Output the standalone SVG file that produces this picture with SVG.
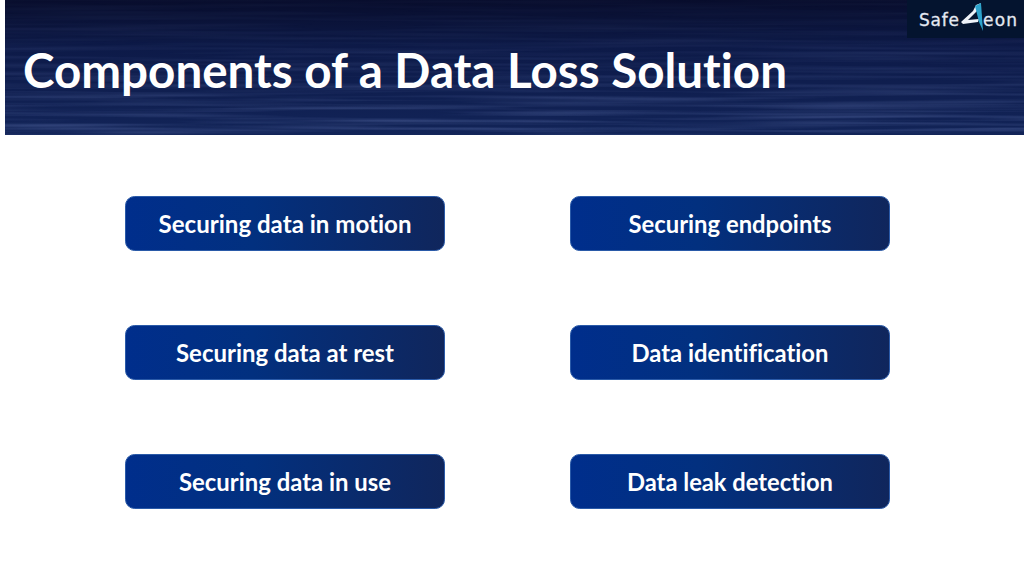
<svg xmlns="http://www.w3.org/2000/svg" width="1024" height="576" viewBox="0 0 1024 576">
<style>
.box{fill:url(#bx);stroke:#2a5aa8;stroke-width:1}
.lb{font-family:Lato,"Open Sans","Liberation Sans",sans-serif;font-weight:700;font-size:24px;fill:#fff;text-anchor:middle;font-variant-ligatures:none}
.tt{font-family:Lato,"Open Sans","Liberation Sans",sans-serif;font-weight:700;font-size:47px;fill:#fff;font-variant-ligatures:none}
.lg{font-family:"DejaVu Sans",sans-serif;font-weight:400;font-size:17px;fill:#e4e9f2;stroke:#e4e9f2;stroke-width:0.300}
</style>
<defs>
<linearGradient id="bx" x1="0" x2="1" y1="0" y2="0"><stop offset="0" stop-color="#002e8c"/><stop offset="0.4" stop-color="#02307f"/><stop offset="1" stop-color="#10265c"/></linearGradient>
<linearGradient id="hd" x1="0" x2="0" y1="0" y2="1"><stop offset="0" stop-color="#080d2c"/><stop offset="0.35" stop-color="#0d1a48"/><stop offset="1" stop-color="#122458"/></linearGradient>
<linearGradient id="fade" x1="0" x2="0" y1="0" y2="1"><stop offset="0" stop-color="#fff" stop-opacity="0.06"/><stop offset="0.55" stop-color="#fff" stop-opacity="0.2"/><stop offset="1" stop-color="#fff" stop-opacity="0.42"/></linearGradient>
<mask id="fm"><rect x="0" y="0" width="1024" height="135" fill="url(#fade)"/></mask>
<filter id="st" x="0" y="0" width="100%" height="100%" color-interpolation-filters="sRGB">
<feTurbulence type="fractalNoise" baseFrequency="0.004 0.25" numOctaves="2" seed="7"/>
<feColorMatrix type="matrix" values="0 0 0 0 0.5  0 0 0 0 0.58  0 0 0 0 0.82  1.6 0 0 0 -0.6"/>
</filter>
</defs>
<g id="header">
<rect x="5" y="0" width="1019" height="135" fill="url(#hd)"/>
<rect x="5" y="0" width="1019" height="135" filter="url(#st)" mask="url(#fm)"/>
<text class="tt" x="23" y="87.500" textLength="764" lengthAdjust="spacingAndGlyphs">Components of a Data Loss Solution</text>
</g>
<g id="logo">
<rect x="907" y="0" width="117" height="38" fill="#04142f"/>
<text class="lg" x="919" y="26" textLength="40">Safe</text>
<path d="M961 22L973 11L976 5L981 3L977 11L968 20L979 19L978 22L963 24Z" fill="#eef2f8"/>
<path d="M975 6L981 3L983 31L979 22Z" fill="#2da3cc"/>
<text class="lg" x="983" y="26" textLength="34">eon</text>
</g>
<g id="n1"><rect class="box" x="125.500" y="196.500" width="319" height="54" rx="9"/><text class="lb" x="285" y="233" textLength="253" lengthAdjust="spacingAndGlyphs">Securing data in motion</text></g>
<g id="n2"><rect class="box" x="570.500" y="196.500" width="319" height="54" rx="9"/><text class="lb" x="730" y="233" textLength="203" lengthAdjust="spacingAndGlyphs">Securing endpoints</text></g>
<g id="n3"><rect class="box" x="125.500" y="325.500" width="319" height="54" rx="9"/><text class="lb" x="285" y="362" textLength="218" lengthAdjust="spacingAndGlyphs">Securing data at rest</text></g>
<g id="n4"><rect class="box" x="570.500" y="325.500" width="319" height="54" rx="9"/><text class="lb" x="730" y="362" textLength="197" lengthAdjust="spacingAndGlyphs">Data identification</text></g>
<g id="n5"><rect class="box" x="125.500" y="454.500" width="319" height="54" rx="9"/><text class="lb" x="285" y="491" textLength="212" lengthAdjust="spacingAndGlyphs">Securing data in use</text></g>
<g id="n6"><rect class="box" x="570.500" y="454.500" width="319" height="54" rx="9"/><text class="lb" x="730" y="491" textLength="206" lengthAdjust="spacingAndGlyphs">Data leak detection</text></g>
<g id="connectors"/>
</svg>
